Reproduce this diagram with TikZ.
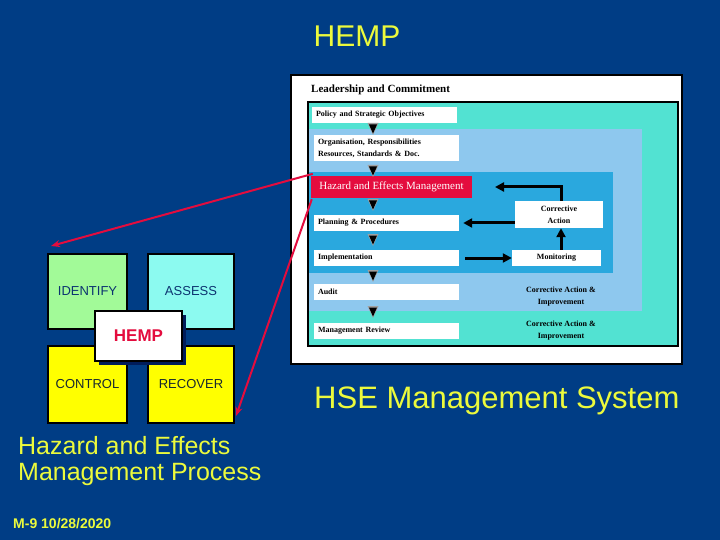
\documentclass[tikz,border=0pt]{standalone}
\usepackage{fontspec}
\setmainfont{Liberation Sans}
\newfontfamily\tnr{Liberation Serif}
\usetikzlibrary{arrows.meta}
\definecolor{slidebg}{RGB}{0,61,133}
\definecolor{slideyellow}{RGB}{236,250,60}
\definecolor{tealcolor}{RGB}{82,226,210}
\definecolor{lightbluecolor}{RGB}{142,200,238}
\definecolor{midbluecolor}{RGB}{42,168,222}
\definecolor{hemred}{RGB}{228,12,62}
\definecolor{idfcolor}{RGB}{162,250,152}
\definecolor{asscolor}{RGB}{140,250,240}
\definecolor{ctlcolor}{RGB}{255,255,0}
\definecolor{quadblue}{RGB}{12,52,112}
\definecolor{quaddark}{RGB}{24,40,48}
\definecolor{shadowcolor}{RGB}{0,28,90}

% small down triangle with grey halo
\newcommand{\downtri}[2]{%
  \fill[gray!75] (#1-5.5,#2-6) -- (#1+5.5,#2-6) -- (#1,#2+6) -- cycle;
  \fill[black] (#1-4,#2-4.5) -- (#1+4,#2-4.5) -- (#1,#2+4.5) -- cycle;}

\begin{document}
\begin{tikzpicture}[x=1pt,y=-1pt,>={Triangle[length=9pt,width=9pt]},
    wbox/.style={fill=white,inner xsep=4pt,inner ysep=0pt,minimum height=16pt,
                 text width=137pt,align=left,
                 font=\tnr\fontsize{8}{12}\selectfont\bfseries},
    ctext/.style={inner sep=0pt,align=center,
                 font=\tnr\fontsize{8}{12}\selectfont\bfseries},
    cbox/.style={ctext,fill=white},
    quad/.style={draw=black,line width=2pt,inner sep=0pt,
                 font=\fontsize{13}{15}\selectfont},
    fbline/.style={->,line width=3pt,black},
    hemline/.style={draw=hemred,line width=2pt,-{Stealth[length=9pt,width=7pt]}}]
  \useasboundingbox (0,0) rectangle (720,540);
  \fill[slidebg] (0,0) rectangle (720,540);

  % titles
  \node[slideyellow,font=\fontsize{30}{32}\selectfont] (title) at (357,36) {HEMP};
  \node[slideyellow,font=\fontsize{31}{33}\selectfont,anchor=base west,inner sep=0pt]
        (hse) at (314,408) {HSE Management System};
  \node[slideyellow,font=\fontsize{25}{27}\selectfont,anchor=base west,inner sep=0pt]
        (hemproc) at (18,454) {Hazard and Effects};
  \node[slideyellow,font=\fontsize{25}{27}\selectfont,anchor=base west,inner sep=0pt]
        (hemproc2) at (18,480) {Management Process};
  \node[slideyellow,font=\fontsize{14}{16}\selectfont\bfseries,anchor=base west,inner sep=0pt]
        (date) at (13,528) {M-9 10/28/2020};

  % management system layers
  \draw[line width=1.2pt,fill=white] (291,75) rectangle (682,364);
  \draw[line width=1.2pt,fill=tealcolor] (308,102) rectangle (678,346);
  \fill[lightbluecolor] (309,129) rectangle (642,311);
  \fill[midbluecolor] (309,172) rectangle (613,273);
  \node[anchor=base west,inner sep=0pt,font=\tnr\fontsize{11}{13}\selectfont\bfseries]
        (lead) at (311,93) {Leadership and Commitment};

  \node[wbox] (pol) at (384.5,115) {Policy and Strategic Objectives};
  \node[wbox,minimum height=26pt] (org) at (386.5,148) {Organisation, Responsibilities\\Resources, Standards \& Doc.};
  \node[fill=hemred,text=white,minimum width=161pt,minimum height=22pt,inner sep=0pt,
        font=\tnr\fontsize{11}{13}\selectfont] (hem) at (391.5,187) {Hazard and Effects Management};
  \node[wbox] (plan) at (386.5,223) {Planning \& Procedures};
  \node[wbox] (imp) at (386.5,258) {Implementation};
  \node[wbox] (aud) at (386.5,292) {Audit};
  \node[wbox] (rev) at (386.5,331) {Management Review};
  \node[cbox,minimum width=88pt,minimum height=27pt] (ca) at (559,214.5) {Corrective\\Action};
  \node[cbox,minimum width=89pt,minimum height=16pt] (mon) at (556.5,258) {Monitoring};
  \node[ctext] (cai) at (561,297) {Corrective Action \&\\Improvement};
  \node[ctext] (cair) at (561,331) {Corrective Action \&\\Improvement};

  \downtri{373}{129}
  \downtri{373}{171}
  \downtri{373}{205}
  \downtri{373}{240}
  \downtri{373}{276}
  \downtri{373}{312}

  \coordinate (fbend) at (495,187);
  \draw[fbline] ([xshift=2pt]ca.north) |- (fbend);
  \draw[fbline] (ca.west |- plan.east) -- ([xshift=4pt]plan.east);
  \draw[fbline] ([xshift=6pt]imp.east) -- (mon.west);
  \draw[fbline] ([xshift=4.5pt]mon.north) -- ([xshift=4.5pt]mon.north |- ca.south);

  % HEMP quadrants
  \node[quad,fill=idfcolor,text=quadblue,minimum width=79pt,minimum height=75pt]
        (idf) at (87.5,291.5) {IDENTIFY};
  \node[quad,fill=asscolor,text=quadblue,minimum width=86pt,minimum height=75pt]
        (ass) at (191,291.5) {ASSESS};
  \node[quad,fill=ctlcolor,text=quaddark,minimum width=79pt,minimum height=77pt]
        (ctl) at (87.5,384.5) {CONTROL};
  \node[quad,fill=ctlcolor,text=quaddark,minimum width=86pt,minimum height=77pt]
        (rec) at (191,384.5) {RECOVER};
  \fill[shadowcolor] (99,315) rectangle (186,365);
  \node[quad,fill=white,text=hemred,minimum width=87pt,minimum height=50pt,
        font=\fontsize{17}{19}\selectfont\bfseries] (hemp) at (138.5,336) {HEMP};

  % links from the system to the process
  \draw[hemline] ([shift={(2,-2)}]hem.north west) -- ([shift={(4,-7)}]idf.north west);
  \draw[hemline] ([shift={(1,1)}]hem.south west) -- ([shift={(1,-8)}]rec.south east);
\end{tikzpicture}
\end{document}
